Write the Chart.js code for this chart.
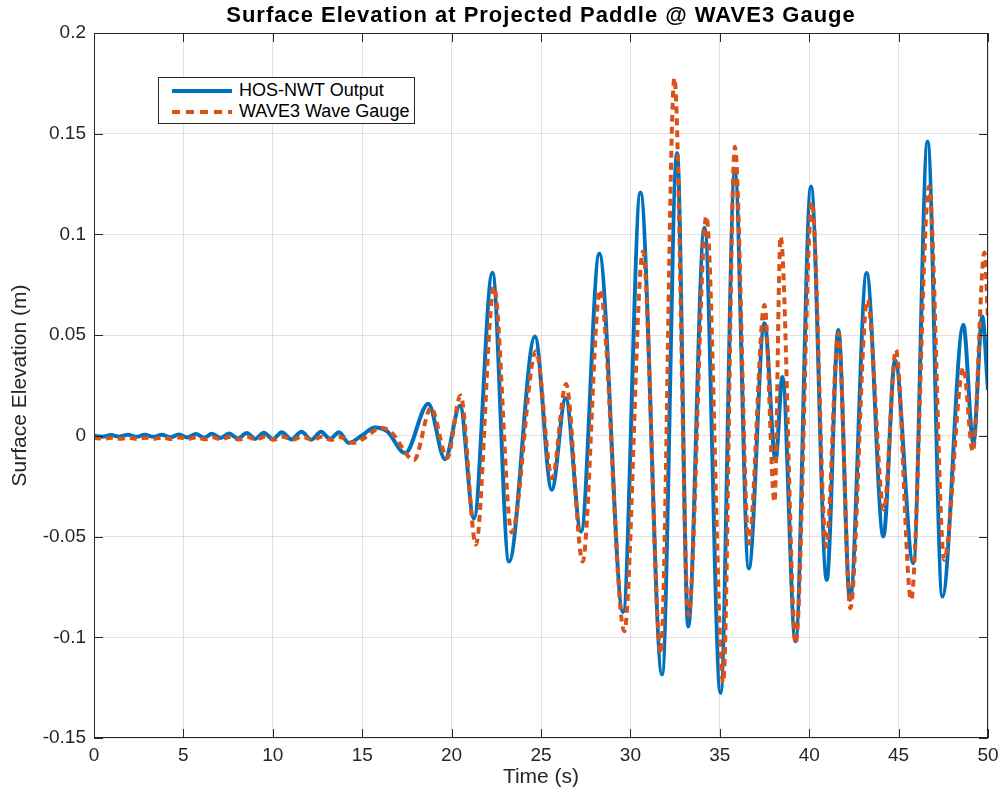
<!DOCTYPE html>
<html>
<head>
<meta charset="utf-8">
<script src="https://cdn.jsdelivr.net/npm/chart.js@4/dist/chart.umd.min.js"></script>
<style>
  body { margin: 0; background: #fff; }
  #wrap { position: relative; width: 1002px; height: 795px; }
  #legend {
    position: absolute; left: 158px; top: 77px; width: 257px; height: 47px;
    border: 1px solid #262626; background: #fff;
    font-family: "Liberation Sans", Arial, Helvetica, sans-serif; font-size: 18px; color: #000;
    box-sizing: border-box; padding-top: 2px;
  }
  #legend .row { display: flex; align-items: center; height: 21px; }
  #legend svg { margin-left: 13px; margin-right: 7px; }
</style>
</head>
<body>
<div id="wrap">
  <canvas id="elev" width="1002" height="795"></canvas>
  <div id="legend">
    <div class="row"><svg width="60" height="8"><line x1="0" y1="4" x2="60" y2="4" stroke="#0072BD" stroke-width="4"/></svg>HOS-NWT Output</div>
    <div class="row"><svg width="60" height="8"><line x1="0" y1="4" x2="60" y2="4" stroke="#D95319" stroke-width="4" stroke-dasharray="8 6"/></svg>WAVE3 Wave Gauge</div>
  </div>
</div>
<script>
// values: time (s) and elevation (m) at turning points
var hosTime = [0, 0.47, 0.95, 1.42, 1.9, 2.37, 2.85, 3.32, 3.8, 4.27, 4.75, 5.22, 5.7, 6.15, 6.6,
  7.07, 7.55, 8.05, 8.55, 9.02, 9.5, 10.0, 10.5, 11.05, 11.6, 12.15, 12.7, 13.2, 13.7,
  14.25, 15.0, 15.7, 16.4, 17.4, 18.7, 19.63, 20.47, 21.25, 22.28, 23.21, 24.66, 25.6,
  26.38, 27.24, 28.26, 29.59, 30.56, 31.77, 32.61, 33.23, 34.14, 35.04, 35.84, 36.62,
  37.5, 38.12, 38.5, 39.23, 40.1, 40.98, 41.63, 42.28, 43.21, 44.15, 44.8, 45.82, 46.62,
  47.45, 48.62, 49.18, 49.68, 50];
var hosElev = [0, -0.0004, 0.0004, -0.0004, 0.0005, -0.0005, 0.0005, -0.0005, 0.0006, -0.0007,
  0.0007, -0.0008, 0.0009, -0.0009, 0.001, -0.0011, 0.0012, -0.0013, 0.0014, -0.0015, 0.0016,
  -0.0017, 0.0018, -0.0018, 0.002, -0.0019, 0.002, -0.0015, 0.0018,
  -0.0035, 0.0003, 0.0042, 0.0022, -0.0086, 0.016, -0.0116, 0.015, -0.041, 0.081, -0.0624,
  0.0493, -0.0268, 0.0187, -0.0475, 0.0904, -0.0874, 0.1208, -0.1184, 0.1404, -0.0946,
  0.1033, -0.1276, 0.1311, -0.0658, 0.0559, -0.0122, 0.0292, -0.102, 0.1238, -0.0715,
  0.0526, -0.0814, 0.0808, -0.05, 0.0377, -0.0632, 0.1461, -0.0798, 0.0551, -0.0036,
  0.0592, 0.0228];

var gaugeTime = [0, 0.5, 1.0, 1.45, 1.95, 2.4, 2.9, 3.35, 3.85, 4.3, 4.8, 5.25, 5.75, 6.2, 6.65,
  7.1, 7.6, 8.1, 8.6, 9.05, 9.55, 10.05, 10.55, 11.1, 11.65, 12.2, 12.75, 13.25, 13.75,
  14.5, 15.2, 16.0, 16.6, 17.9, 18.85, 19.75, 20.5, 21.36, 22.37, 23.36, 24.72, 25.62,
  26.4, 27.33, 28.3, 29.66, 30.7, 31.7, 32.46, 33.25, 34.25, 35.19, 35.84, 36.62,
  37.5, 38.06, 38.4, 39.25, 40.15, 40.95, 41.63, 42.3, 43.25, 44.18, 44.85, 45.7, 46.7,
  47.55, 48.62, 49.15, 49.8, 50];
var gaugeElev = [-0.001, -0.0014, -0.0009, -0.0014, -0.0009, -0.0015, -0.0009, -0.0015, -0.0008,
  -0.0016, -0.0008, -0.0016, -0.0007, -0.0017, -0.0007, -0.0017, -0.0006, -0.0018, -0.0006,
  -0.0018, -0.0005, -0.0019, -0.0005, -0.0019, -0.0004, -0.002, -0.0005, -0.002, -0.0006,
  -0.0035, -0.0007, 0.004, 0.002, -0.012, 0.014, -0.011, 0.02, -0.054, 0.074, -0.048,
  0.042, -0.021, 0.0258, -0.0624, 0.0725, -0.097, 0.0915, -0.108, 0.1775, -0.089,
  0.109, -0.1225, 0.1435, -0.0534, 0.065, -0.0328, 0.099, -0.103, 0.116, -0.055,
  0.051, -0.0856, 0.0675, -0.0367, 0.0427, -0.0814, 0.1238, -0.0616, 0.0338, -0.0078,
  0.091, 0.058];

var xTicks = [0, 5, 10, 15, 20, 25, 30, 35, 40, 45, 50];
var yTicks = [-0.15, -0.1, -0.05, 0, 0.05, 0.1, 0.15, 0.2];

function toPoints(ts, vs) {
  return ts.map(function (t, i) { return { x: t, y: vs[i] }; });
}

var fontFam = '"Liberation Sans", Arial, Helvetica, sans-serif';
var axisGrey = '#262626';

// MATLAB style box round the axes with inward ticks, plus the title over the axes
var axesBox = {
  id: 'axesBox',
  afterDraw: function (chart) {
    var ctx = chart.ctx, a = chart.chartArea;
    var xs = chart.scales.x, ys = chart.scales.y;
    ctx.save();
    ctx.strokeStyle = axisGrey;
    ctx.lineWidth = 1;
    ctx.strokeRect(a.left + 0.5, a.top + 0.5, a.right - a.left - 1, a.bottom - a.top - 1);
    ctx.beginPath();
    xTicks.forEach(function (v) {
      var px = Math.round(xs.getPixelForValue(v)) + 0.5;
      ctx.moveTo(px, a.bottom); ctx.lineTo(px, a.bottom - 9);
      ctx.moveTo(px, a.top); ctx.lineTo(px, a.top + 9);
    });
    yTicks.forEach(function (v) {
      var py = Math.round(ys.getPixelForValue(v)) + 0.5;
      ctx.moveTo(a.left, py); ctx.lineTo(a.left + 9, py);
      ctx.moveTo(a.right, py); ctx.lineTo(a.right - 9, py);
    });
    ctx.stroke();
    ctx.fillStyle = '#000';
    ctx.font = 'bold 22px ' + fontFam;
    ctx.letterSpacing = '1px';
    ctx.textAlign = 'center';
    ctx.textBaseline = 'middle';
    ctx.fillText('Surface Elevation at Projected Paddle @ WAVE3 Gauge', (a.left + a.right) / 2, 16);
    ctx.restore();
  }
};

var ctx = document.getElementById('elev').getContext('2d');
var elevChart = new Chart(ctx, {
  type: 'line',
  data: {
    datasets: [
      {
        label: 'HOS-NWT Output',
        data: toPoints(hosTime, hosElev),
        borderColor: '#0072BD',
        borderWidth: 4,
        pointRadius: 0,
        cubicInterpolationMode: 'monotone',
        order: 1
      },
      {
        label: 'WAVE3 Wave Gauge',
        data: toPoints(gaugeTime, gaugeElev),
        borderColor: '#D95319',
        borderWidth: 4,
        borderDash: [7, 5],
        pointRadius: 0,
        cubicInterpolationMode: 'monotone',
        order: 0
      }
    ]
  },
  options: {
    responsive: false,
    animation: false,
    layout: { padding: { left: 8, right: 14, top: 33, bottom: 0 } },
    plugins: { legend: { display: false }, title: { display: false }, tooltip: { enabled: false } },
    scales: {
      x: {
        type: 'linear',
        min: 0, max: 50,
        afterFit: function (s) { s.height = 57; s.paddingRight = 0; },
        grid: { color: 'rgba(38,38,38,0.13)', drawTicks: false },
        border: { display: false },
        ticks: {
          stepSize: 5, padding: 6, color: axisGrey,
          font: { family: fontFam, size: 19 },
          maxRotation: 0
        },
        title: {
          display: true, text: 'Time (s)', color: axisGrey,
          font: { family: fontFam, size: 21 },
          padding: { top: 0, bottom: 5 }
        }
      },
      y: {
        min: -0.15, max: 0.2,
        afterFit: function (s) { s.width = 86; },
        grid: { color: 'rgba(38,38,38,0.13)', drawTicks: false },
        border: { display: false },
        ticks: {
          stepSize: 0.05, padding: 8, color: axisGrey,
          font: { family: fontFam, size: 19 },
          callback: function (v) { return String(Number(v.toFixed(2))); }
        },
        title: {
          display: true, text: 'Surface Elevation (m)', color: axisGrey,
          font: { family: fontFam, size: 21 },
          padding: { top: 0, bottom: 0 }
        }
      }
    }
  },
  plugins: [axesBox]
});
</script>
</body>
</html>
